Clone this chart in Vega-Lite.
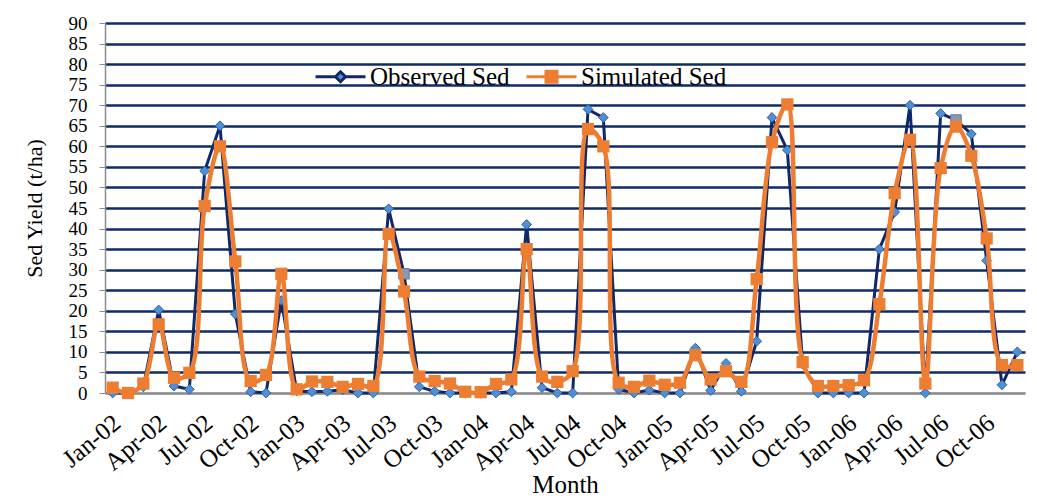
{
  "$schema": "https://vega.github.io/schema/vega-lite/v6.json",
  "width": 920,
  "height": 370,
  "autosize": "none",
  "padding": {"left": 105, "top": 23, "right": 12, "bottom": 105},
  "background": "white",
  "config": {
    "view": {"stroke": null},
    "font": "Liberation Serif"
  },
  "datasets": {
    "sed": [
      {"month": "Jan-02", "observed": 0, "simulated": 1.3},
      {"month": "Feb-02", "observed": 0, "simulated": 0},
      {"month": "Mar-02", "observed": 1.5, "simulated": 2.3},
      {"month": "Apr-02", "observed": 20.2, "simulated": 16.7},
      {"month": "May-02", "observed": 1.7, "simulated": 3.7},
      {"month": "Jun-02", "observed": 0.9, "simulated": 4.9},
      {"month": "Jul-02", "observed": 54, "simulated": 45.5},
      {"month": "Aug-02", "observed": 65, "simulated": 60},
      {"month": "Sep-02", "observed": 19.2, "simulated": 32},
      {"month": "Oct-02", "observed": 0.3, "simulated": 2.9},
      {"month": "Nov-02", "observed": 0, "simulated": 4.4},
      {"month": "Dec-02", "observed": 22.5, "simulated": 29},
      {"month": "Jan-03", "observed": 0.5, "simulated": 0.9},
      {"month": "Feb-03", "observed": 0.3, "simulated": 2.8},
      {"month": "Mar-03", "observed": 0.4, "simulated": 2.7},
      {"month": "Apr-03", "observed": 0.8, "simulated": 1.5},
      {"month": "May-03", "observed": 0, "simulated": 2.2},
      {"month": "Jun-03", "observed": 0, "simulated": 1.7},
      {"month": "Jul-03", "observed": 44.8, "simulated": 38.7},
      {"month": "Aug-03", "observed": 29, "simulated": 24.7},
      {"month": "Sep-03", "observed": 1.5, "simulated": 4},
      {"month": "Oct-03", "observed": 0.4, "simulated": 2.9},
      {"month": "Nov-03", "observed": 0, "simulated": 2.3},
      {"month": "Dec-03", "observed": 0, "simulated": 0.3},
      {"month": "Jan-04", "observed": 0, "simulated": 0.2},
      {"month": "Feb-04", "observed": 0, "simulated": 2.2},
      {"month": "Mar-04", "observed": 0.3, "simulated": 3.3},
      {"month": "Apr-04", "observed": 41, "simulated": 35},
      {"month": "May-04", "observed": 1.3, "simulated": 4},
      {"month": "Jun-04", "observed": 0, "simulated": 2.7},
      {"month": "Jul-04", "observed": 0, "simulated": 5.3},
      {"month": "Aug-04", "observed": 69, "simulated": 64.2},
      {"month": "Sep-04", "observed": 67, "simulated": 60},
      {"month": "Oct-04", "observed": 0.9, "simulated": 2.5},
      {"month": "Nov-04", "observed": 0, "simulated": 1.5},
      {"month": "Dec-04", "observed": 0.7, "simulated": 3},
      {"month": "Jan-05", "observed": 0, "simulated": 2},
      {"month": "Feb-05", "observed": 0, "simulated": 2.5},
      {"month": "Mar-05", "observed": 10.9, "simulated": 9.2},
      {"month": "Apr-05", "observed": 0.6, "simulated": 3.3},
      {"month": "May-05", "observed": 7.2, "simulated": 5.3},
      {"month": "Jun-05", "observed": 0.4, "simulated": 2.7},
      {"month": "Jul-05", "observed": 12.6, "simulated": 27.7},
      {"month": "Aug-05", "observed": 67, "simulated": 61},
      {"month": "Sep-05", "observed": 59.1, "simulated": 70.2},
      {"month": "Oct-05", "observed": 7, "simulated": 7.5},
      {"month": "Nov-05", "observed": 0, "simulated": 1.7},
      {"month": "Dec-05", "observed": 0, "simulated": 1.7},
      {"month": "Jan-06", "observed": 0, "simulated": 1.9},
      {"month": "Feb-06", "observed": 0, "simulated": 3.1},
      {"month": "Mar-06", "observed": 35, "simulated": 21.6},
      {"month": "Apr-06", "observed": 44, "simulated": 48.6},
      {"month": "May-06", "observed": 70, "simulated": 61.6},
      {"month": "Jun-06", "observed": 0, "simulated": 2.3},
      {"month": "Jul-06", "observed": 68, "simulated": 54.7},
      {"month": "Aug-06", "observed": 66.4, "simulated": 64.8},
      {"month": "Sep-06", "observed": 63, "simulated": 57.7},
      {"month": "Oct-06", "observed": 32.2, "simulated": 37.6},
      {"month": "Nov-06", "observed": 2, "simulated": 6.8},
      {"month": "Dec-06", "observed": 10, "simulated": 6.8}
    ]
  },
  "data": {"name": "sed"},
  "encoding": {
    "x": {
      "field": "month",
      "type": "nominal",
      "sort": null,
      "scale": {"type": "point", "padding": 0.5},
      "axis": {
        "title": "Month",
        "titleFont": "Liberation Serif",
        "titleFontSize": 25,
        "titleFontWeight": "normal",
        "titleColor": "#000",
        "titleY": 99,
        "titleBaseline": "alphabetic",
        "values": ["Jan-02","Apr-02","Jul-02","Oct-02","Jan-03","Apr-03","Jul-03","Oct-03","Jan-04","Apr-04","Jul-04","Oct-04","Jan-05","Apr-05","Jul-05","Oct-05","Jan-06","Apr-06","Jul-06","Oct-06"],
        "labelAngle": -40,
        "labelAlign": "right",
        "labelBaseline": "middle",
        "labelFont": "Liberation Serif",
        "labelFontSize": 25,
        "labelColor": "#000",
        "labelPadding": 26,
        "labelOffset": 4,
        "labelOverlap": false,
        "ticks": false,
        "domainColor": "#8c8c8c",
        "domainWidth": 1.5,
        "grid": false
      }
    },
    "y": {
      "field": "value",
      "type": "quantitative",
      "scale": {"domain": [0, 90], "nice": false},
      "axis": {
        "title": "Sed Yield (t/ha)",
        "titleFont": "Liberation Serif",
        "titleFontSize": 22,
        "titleFontWeight": "normal",
        "titleColor": "#000",
        "titleX": -71,
        "titleY": 185,
        "titleAngle": -90,
        "titleBaseline": "middle",
        "titleAlign": "center",
        "values": [0,5,10,15,20,25,30,35,40,45,50,55,60,65,70,75,80,85,90],
        "labelFont": "Liberation Serif",
        "labelFontSize": 19,
        "labelColor": "#000",
        "labelPadding": 12,
        "labelOverlap": false,
        "tickSize": 6,
        "tickColor": "#8c8c8c",
        "domainColor": "#8c8c8c",
        "domainWidth": 1.5,
        "grid": true,
        "gridColor": {"condition": {"test": "datum.value === 0", "value": "#8c8c8c"}, "value": "#0e2a6b"},
        "gridWidth": 2.5,
        "gridOpacity": 1
      }
    }
  },
  "layer": [
    {
      "transform": [{"fold": ["observed", "simulated"], "as": ["key", "value"]}, {"filter": "datum.key === 'observed'"}],
      "mark": {"type": "line", "color": "#10286a", "strokeWidth": 3}
    },
    {
      "transform": [{"fold": ["observed", "simulated"], "as": ["key", "value"]}, {"filter": "datum.key === 'observed'"}],
      "mark": {"type": "point", "shape": "diamond", "filled": true, "fill": "#4f8fd6", "stroke": "#2f5f9f", "strokeWidth": 1, "size": 95, "opacity": 1}
    },
    {
      "transform": [{"fold": ["observed", "simulated"], "as": ["key", "value"]}, {"filter": "datum.key === 'observed'"}, {"filter": {"field": "month", "oneOf": ["Aug-03", "Aug-06"]}}],
      "mark": {"type": "point", "shape": "square", "filled": true, "fill": "#8a98b0", "stroke": "#6a7a95", "strokeWidth": 1, "size": 110, "opacity": 1}
    },
    {
      "transform": [{"fold": ["observed", "simulated"], "as": ["key", "value"]}, {"filter": "datum.key === 'simulated'"}],
      "mark": {"type": "line", "color": "#ed7d31", "strokeWidth": 4.5, "interpolate": "catmull-rom"}
    },
    {
      "transform": [{"fold": ["observed", "simulated"], "as": ["key", "value"]}, {"filter": "datum.key === 'simulated'"}],
      "mark": {"type": "point", "shape": "square", "filled": true, "color": "#ed7d31", "size": 150, "opacity": 1}
    },
    {
      "data": {"values": []},
      "mark": {"type": "point", "filled": true, "opacity": 1},
      "encoding": {
        "shape": {
          "field": "series",
          "type": "nominal",
          "scale": {
            "domain": ["Observed Sed", "Simulated Sed"],
            "range": ["M-5,0H-1M1,0H5M0,-1L1,0L0,1L-1,0Z", "M-5,0H5M-1.1,-1.1H1.1V1.1H-1.1Z"]
          },
          "legend": {
            "title": null,
            "orient": "none",
            "direction": "horizontal",
            "legendX": 223,
            "legendY": 41,
            "padding": 0,
            "symbolSize": 100,
            "symbolStrokeWidth": 3,
            "symbolOpacity": 1,
            "labelOffset": 17,
            "columnPadding": 10,
            "labelFont": "Liberation Serif",
            "labelFontSize": 25,
            "labelColor": "#000",
            "labelLimit": 300
          }
        },
        "fill": {
          "field": "series",
          "type": "nominal",
          "scale": {"domain": ["Observed Sed", "Simulated Sed"], "range": ["#4f8fd6", "#ed7d31"]}
        },
        "stroke": {
          "field": "series",
          "type": "nominal",
          "scale": {"domain": ["Observed Sed", "Simulated Sed"], "range": ["#10286a", "#ed7d31"]}
        }
      }
    }
  ]
}
